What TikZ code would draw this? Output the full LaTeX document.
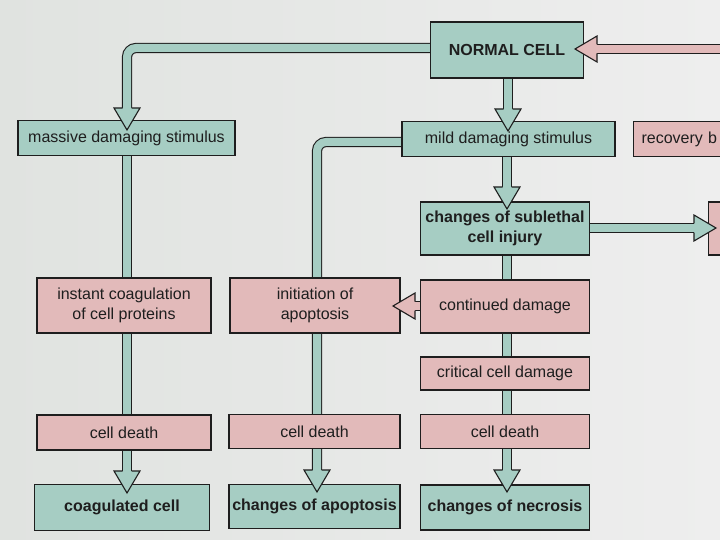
\documentclass[tikz,border=0pt]{standalone}
\usepackage{fontspec}
\setmainfont{Liberation Sans}
\definecolor{teal1}{RGB}{166,205,195}
\definecolor{pink1}{RGB}{226,186,186}
\definecolor{bgL}{RGB}{224,227,224}
\definecolor{bgR}{RGB}{238,238,238}
\definecolor{ink}{RGB}{30,30,30}
\tikzset{
  box/.style={draw=ink, line width=1.1pt, inner sep=3pt, align=center, text=ink,
    font=\fontsize{16}{20.5}\selectfont},
  tbox/.style={box, fill=teal1},
  pbox/.style={box, fill=pink1},
  bbox/.style={tbox, font=\fontsize{16}{20.5}\selectfont\bfseries},
  shaft/.style={draw=ink, line width=1.1pt, double=#1, double distance=8pt, rounded corners=9pt},
  headS/.pic={
    \fill[fill=#1] (-4.5,-22) -- (-13,-22) -- (0,0) -- (13,-22) -- (4.5,-22) -- cycle;
    \draw[ink, line width=1.1pt, line join=miter] (-4.5,-22) -- (-13,-22) -- (0,0) -- (13,-22) -- (4.5,-22);
  },
}
\begin{document}
\begin{tikzpicture}[x=1pt,y=-1pt]
\clip (0,0) rectangle (720,540);
\shade[left color=bgL, right color=bgR] (0,0) rectangle (720,540);

% shafts
\draw[shaft=teal1] (432,48) -| (127,108);
\draw[shaft=teal1] (508,76) -- (508,110);
\draw[shaft=teal1] (404,142) -| (317,472);
\draw[shaft=teal1] (127,155) -- (127,472);
\draw[shaft=teal1] (507,155) -- (507,190);
\draw[shaft=teal1] (507,253) -- (507,472);
\draw[shaft=teal1] (588,228) -- (696,228);
\draw[shaft=pink1] (730,49) -- (592,49);
\draw[shaft=pink1] (422,306) -- (412,306);

% boxes
\node[bbox, minimum width=153pt, minimum height=56pt] (nc) at (507,50) {NORMAL CELL};
\node[tbox, minimum width=217pt, minimum height=35pt] (massive) at (126.5,138) {massive damaging stimulus};
\node[tbox, minimum width=213pt, minimum height=35pt] (mild) at (508.5,139) {mild damaging stimulus};
\node[pbox, anchor=west, minimum height=35pt, text width=110pt, align=left, inner sep=8pt] (recov) at (633,139) {recovery b};
\node[bbox, minimum width=169pt, minimum height=53pt] (sub) at (505,228.5) {changes of sublethal\\cell injury};
\node[pbox, anchor=west, minimum width=40pt, minimum height=53pt] (rbox) at (708,228.5) {};
\node[pbox, minimum width=174pt, minimum height=55pt] (coag) at (124,305.5) {instant coagulation\\of cell proteins};
\node[pbox, minimum width=170pt, minimum height=55pt] (init) at (315,305.5) {initiation of\\apoptosis};
\node[pbox, minimum width=169pt, minimum height=53pt] (cont) at (505,306.5) {continued damage};
\node[pbox, minimum width=169pt, minimum height=33pt] (crit) at (505,373.5) {critical cell damage};
\node[pbox, minimum width=174pt, minimum height=35pt] (cd1) at (124,432.5) {cell death};
\node[pbox, minimum width=171pt, minimum height=34pt] (cd2) at (314.5,431.5) {cell death};
\node[pbox, minimum width=169pt, minimum height=34pt] (cd3) at (505,431.5) {cell death};
\node[bbox, minimum width=175pt, minimum height=46pt] (coagc) at (122,507.5) {coagulated cell};
\node[bbox, minimum width=171pt, minimum height=44pt] (apo) at (314.5,506.5) {changes of apoptosis};
\node[bbox, minimum width=169pt, minimum height=45pt] (nec) at (505,507.5) {changes of necrosis};

% heads
\pic at (127,130) {headS=teal1};
\pic at (508,131) {headS=teal1};
\pic at (507,209) {headS=teal1};
\pic at (127,493) {headS=teal1};
\pic at (317,492) {headS=teal1};
\pic at (507,492) {headS=teal1};
\pic[rotate=90] at (716,228) {headS=teal1};
\pic[rotate=-90] at (575,49) {headS=pink1};
\pic[rotate=-90] at (393,306) {headS=pink1};
\end{tikzpicture}
\end{document}
